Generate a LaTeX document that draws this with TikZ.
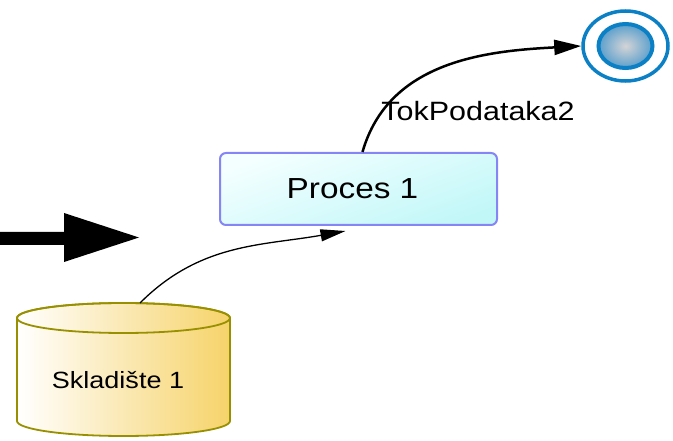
\documentclass[tikz,border=0pt]{standalone}
\usepackage{fontspec}
\setmainfont{Liberation Sans}
\usepackage{graphicx}
\usetikzlibrary{shapes.geometric,arrows.meta}
\definecolor{procline}{HTML}{8585F5}
\definecolor{proctop}{HTML}{F4FFFF}
\definecolor{procbot}{HTML}{C2F7F8}
\definecolor{storeline}{HTML}{989000}
\definecolor{storeright}{HTML}{F6D36A}
\definecolor{endblue}{HTML}{0B80C4}
\definecolor{endmid}{HTML}{5A9FCC}
\definecolor{endgray}{HTML}{D4D4D6}
\newcommand{\wtxt}[2]{\scalebox{1.15}[1]{\fontsize{#1}{#1}\selectfont #2}}
\tikzset{
	proc/.style    = {draw=procline, line width=2pt, rectangle, rounded corners=6pt,
		minimum width=277pt, minimum height=72pt,
		top color=proctop, bottom color=procbot, shading angle=20},
	storage/.style = {draw=storeline, line width=1.8pt, left color=white, right color=storeright},
	endev/.style   = {draw=endblue, ellipse, line width=3.5pt, minimum width=85pt, minimum height=70pt},
	endin/.style   = {draw=endblue, ellipse, line width=4pt, minimum width=54pt, minimum height=44pt,
		inner color=endgray, outer color=endmid},
	flow/.style    = {->, >={Triangle[length=25pt, width=12pt]}, line width=1.3pt},
	bigflow/.style = {->, >={Triangle[length=27pt, width=15pt]}, line width=2.5pt}
}

\begin{document}
\begin{tikzpicture}[auto, x=1pt, y=1pt]
	\useasboundingbox (0,0) rectangle (673,440);
	
	% skladiste
	\draw[storage] (17,122) -- (17,19) arc[start angle=180, end angle=360, x radius=106.5, y radius=15]
		-- (230,122) arc[start angle=0, end angle=180, x radius=106.5, y radius=15] -- cycle;
	\draw[storeline, line width=1.8pt] (123.5,122) ellipse [x radius=106.5, y radius=15];
	
	\draw
	node at (358.5,251)[proc] (p1) {\wtxt{29}{Proces 1}\kern12pt}
	node at (625.5,394)[endev] (e1) {}
	node at (625.5,394)[endin] (e2) {}
	node at (118,60) (s1) {\wtxt{23.5}{Skladište 1}}
	node at (478,329) (l1) {\wtxt{26.5}{TokPodataka2}}
	;
	\coordinate (s1top) at (140,137);
	
	% ulazna strelica
	\fill (0,195) -- (64,195) -- (64,178) -- (139,202.5) -- (64,227) -- (64,208) -- (0,208) -- cycle;
	
	\draw[flow] (s1top) to[out=45, in=190] ([xshift=-13pt, yshift=-5pt]p1.south);
	\draw[bigflow] ([xshift=4pt]p1.north) to[out=74, in=183] (e1.west);
\end{tikzpicture}
\end{document}
